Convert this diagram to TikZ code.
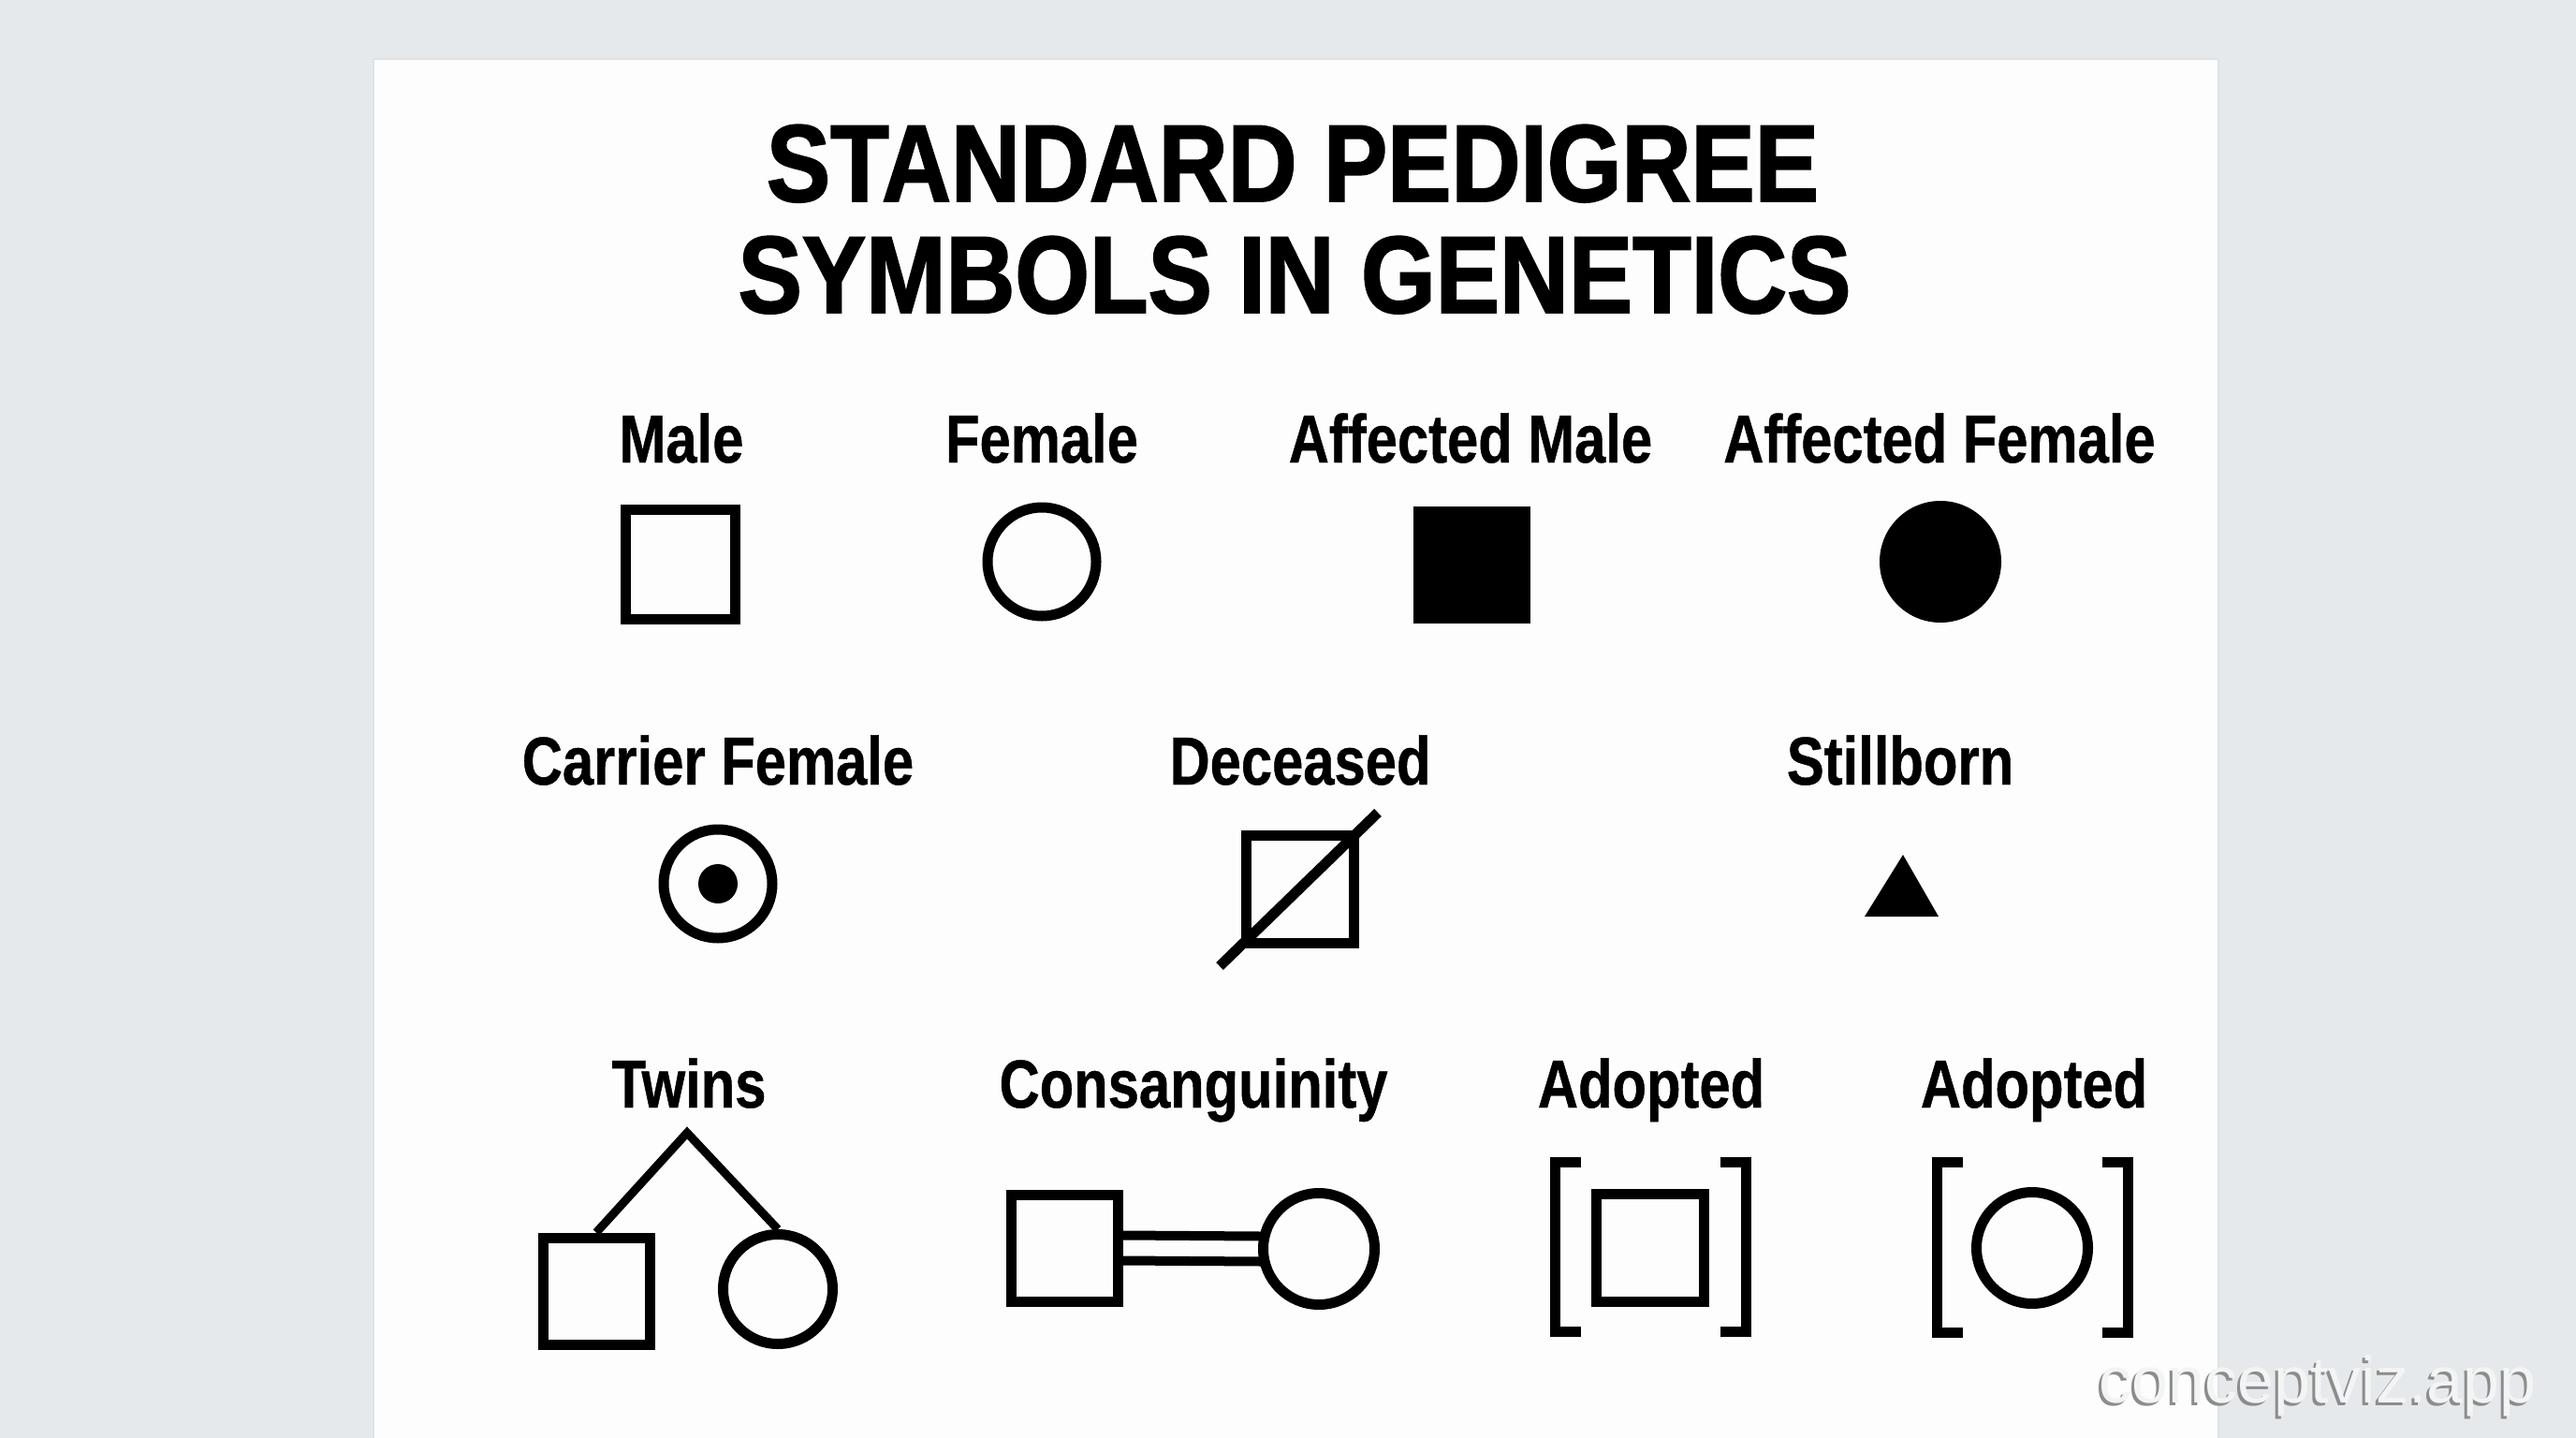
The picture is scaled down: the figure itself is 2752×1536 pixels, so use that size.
\documentclass[tikz,border=0pt]{standalone}
\usepackage{fontspec}
\usetikzlibrary{calc}
\newfontfamily\titlefont{Liberation Sans}[FakeStretch=0.875,FakeBold=1.6]
\newfontfamily\lblfont{Liberation Sans}[FakeStretch=0.823,FakeBold=0.6]
\newfontfamily\wmfont{Liberation Sans}
\definecolor{bgc}{HTML}{E6E9EB}
\definecolor{cardc}{HTML}{FDFDFD}
\definecolor{cardedge}{HTML}{DFE2E4}
\definecolor{wmface}{HTML}{F3F4F4}
\definecolor{wmshadow}{HTML}{8C8C8C}
\begin{document}
\begin{tikzpicture}[x=1pt,y=-1pt,
  ttl/.style={anchor=base, inner sep=0pt, font=\titlefont\bfseries\fontsize{117}{120}\selectfont},
  lbl/.style={anchor=base, inner sep=0pt, font=\lblfont\bfseries\fontsize{72.6}{80}\selectfont},
  msym/.style={draw, rectangle, line width=11pt, minimum size=#1, inner sep=0pt},
  fsym/.style={draw, circle, line width=11pt, minimum size=#1, inner sep=0pt},
  msolid/.style={fill=black, rectangle, minimum size=#1, inner sep=0pt},
  fsolid/.style={fill=black, circle, minimum size=#1, inner sep=0pt},
  bline/.style={line width=11pt},
  wm/.style={anchor=base, inner sep=0pt, font=\wmfont\fontsize{70}{74}\selectfont}
]
\useasboundingbox (0,0) rectangle (2752,1536);
\fill[bgc] (0,0) rectangle (2752,1536);
% card
\fill[cardedge] (398,62) rectangle (2371,1536);
\fill[cardc] (400,64) rectangle (2369,1536);

% title
\node[ttl] (t1) at (1381,215) {STANDARD PEDIGREE};
\node[ttl] (t2) at (1383,334) {SYMBOLS IN GENETICS};

% row 1
\node[lbl] (lmale) at (728,494) {Male};
\node[lbl] (lfem) at (1113,494) {Female};
\node[lbl] (lam) at (1571,494) {Affected Male};
\node[lbl] (laf) at (2072,494) {Affected Female};
\node[msym=117pt] (male) at (727,603) {};
\node[fsym=116pt] (fem) at (1113,600) {};
\node[msolid=125pt] (am) at (1572,603) {};
\node[fsolid=130pt] (af) at (2073,600) {};

% row 2
\node[lbl] (lcar) at (767,838) {Carrier Female};
\node[lbl] (ldec) at (1389,838) {Deceased};
\node[lbl] (lsb) at (2030,838) {Stillborn};
\node[fsym=116pt] (car) at (767,944) {};
\node[fsolid=42pt] (cardot) at (car.center) {};
\node[msym=115pt] (dec) at (1389,950) {};
\coordinate (dlo) at (1303,1032);
\coordinate (dhi) at (1472,868);
\draw[bline] (dlo) -- (dhi);
\coordinate (sbl) at (1992,979);
\coordinate (sbt) at (2033,913);
\coordinate (sbr) at (2071,979);
\fill (sbl) -- (sbt) -- (sbr) -- cycle;

% row 3
\node[lbl] (ltw) at (736,1183) {Twins};
\node[lbl] (lcon) at (1275,1183) {Consanguinity};
\node[lbl] (lad1) at (1764,1183) {Adopted};
\node[lbl] (lad2) at (2173,1183) {Adopted};

% twins
\node[msym=114pt] (tsq) at (637,1379) {};
\node[fsym=117pt] (tci) at (831,1377) {};
\coordinate (apex) at (734,1210);
\draw[line width=9pt, line join=miter] (tsq.north) -- (apex) -- (tci.north);

% consanguinity
\node[msym=114pt] (csq) at (1137,1333) {};
\node[fsym=119pt] (cci) at (1409,1334) {};
\draw[line width=10pt] ($(csq.east)+(0,-13.5)$) -- ($(cci.west)+(3,-13.5)$);
\draw[line width=10pt] ($(csq.east)+(0,13.5)$) -- ($(cci.west)+(3,13.5)$);

% adopted male
\node[msym=115pt] (adm) at (1763,1333) {};
\draw[bline] (1689,1241.5) -- (1661.5,1241.5) -- (1661.5,1422.5) -- (1689,1422.5);
\draw[bline] (1838,1241.5) -- (1865.5,1241.5) -- (1865.5,1422.5) -- (1838,1422.5);

% adopted female
\node[fsym=119pt] (adf) at (2171,1333) {};
\draw[bline] (2097,1241.5) -- (2069.5,1241.5) -- (2069.5,1423.5) -- (2097,1423.5);
\draw[bline] (2246,1241.5) -- (2273.5,1241.5) -- (2273.5,1423.5) -- (2246,1423.5);

% watermark
\node[wm, text=wmshadow] (wms) at (2473,1501) {conceptviz.app};
\node[wm, text=wmface] (wmt) at (2476,1498) {conceptviz.app};
\end{tikzpicture}
\end{document}
